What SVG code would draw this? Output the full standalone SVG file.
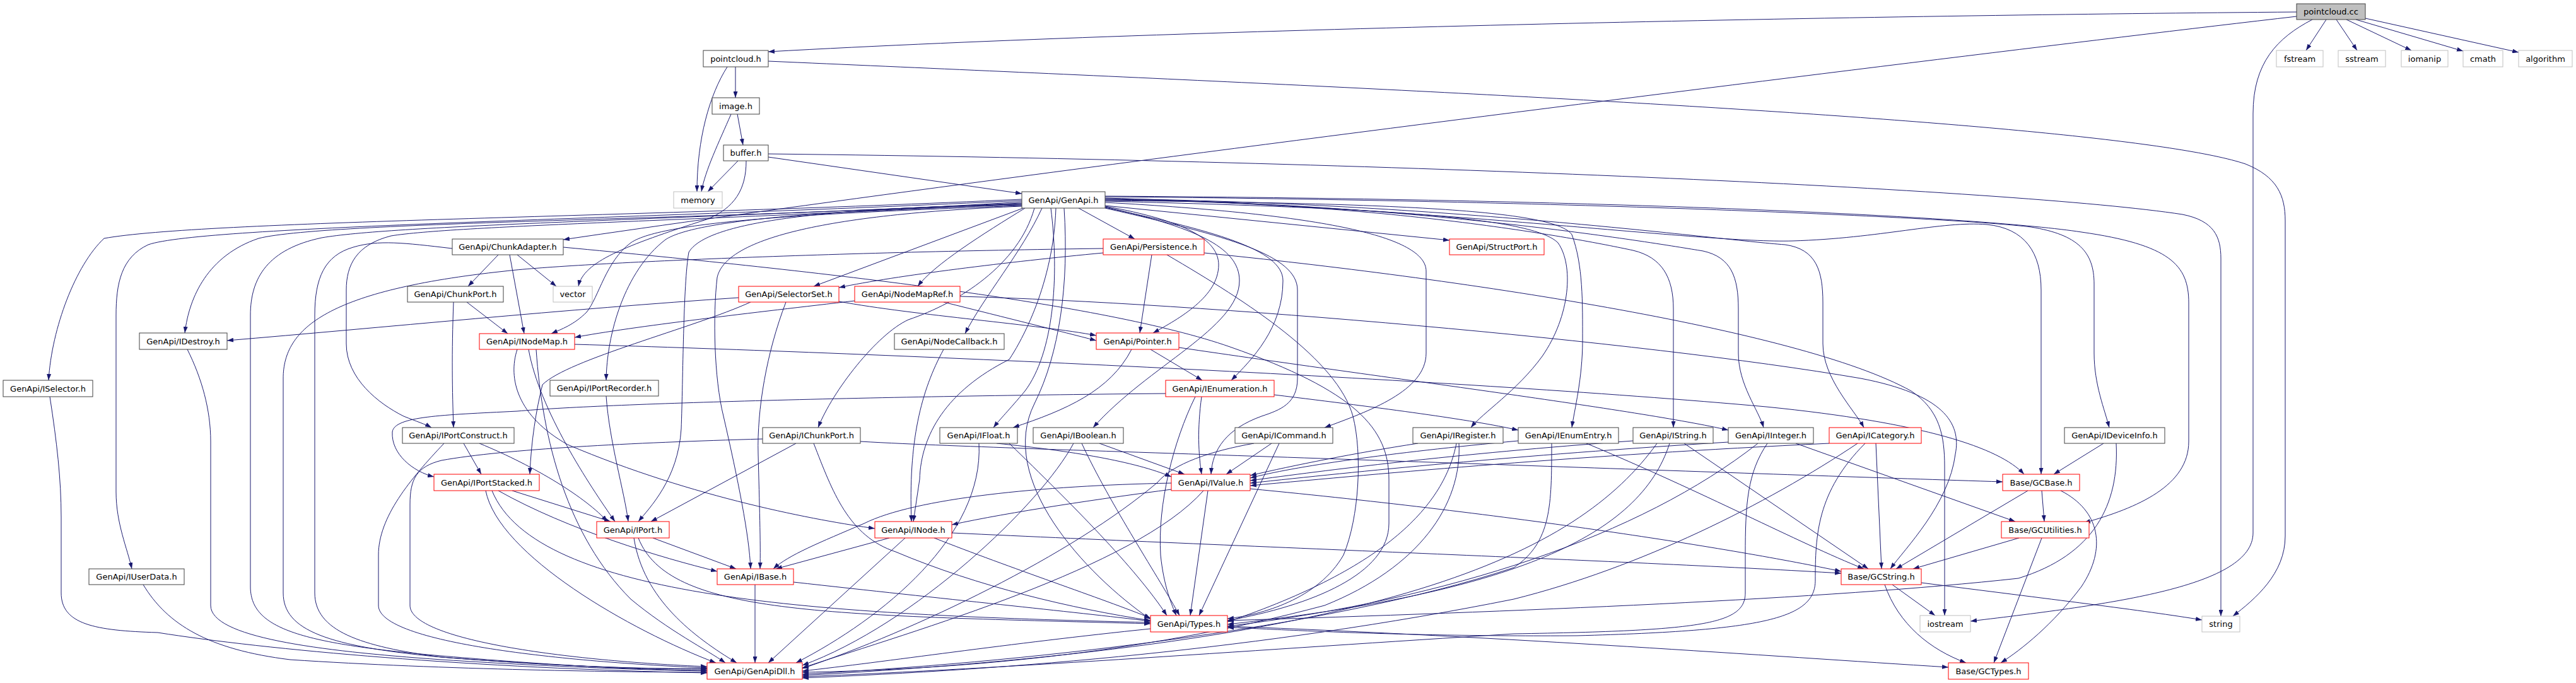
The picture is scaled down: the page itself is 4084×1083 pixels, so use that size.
<svg xmlns="http://www.w3.org/2000/svg" width="4084" height="1083" viewBox="0 0 4084 1083">
<defs>
<marker id="a" viewBox="0 0 10 7" markerWidth="10" markerHeight="7" refX="10" refY="3.5" orient="auto" markerUnits="userSpaceOnUse"><path d="M0,0L10,3.5L0,7z" fill="#191970"/></marker>
</defs>
<style>
rect{fill:#fff;stroke-width:1}
.n rect{stroke:#404040}
.r rect{stroke:#ff0000}
.g rect{stroke:#bfbfbf}
.root rect{fill:#bfbfbf;stroke:#404040}
text{font-family:"DejaVu Sans","Liberation Sans",sans-serif;font-size:13px;fill:#000;text-anchor:middle}
#edges path{fill:none;stroke:#191970;stroke-width:1;marker-end:url(#a)}
</style>
<rect x="0" y="0" width="4084" height="1083" style="fill:#fff;stroke:none"/>
<g id="edges">
<path d="M3641,19 C3000,24 1900,44 1218,82"/>
<path d="M3641,26 C3000,100 1500,290 893,380"/>
<path d="M3688,31 L3656,80"/>
<path d="M3704,31 L3737,80"/>
<path d="M3720,31 L3823,80"/>
<path d="M3735,31 L3905,81"/>
<path d="M3750,29 L3993,83"/>
<path d="M3666,31 C3610,60 3572,100 3572,180 L3572,845 C3572,930 3350,958 3124,985"/>
<path d="M1166,106 L1166,155"/>
<path d="M1153,106 C1125,150 1105,220 1105,304"/>
<path d="M1218,97 C2200,140 3350,190 3560,260 C3610,280 3623,310 3623,350 L3623,850 C3623,910 3575,950 3540,977"/>
<path d="M1159,181 C1140,225 1118,270 1112,304"/>
<path d="M1169,181 L1178,230"/>
<path d="M1170,255 L1122,304"/>
<path d="M1218,249 L1620,307"/>
<path d="M1218,244 C2200,255 3200,300 3460,340 C3510,350 3521,375 3521,410 L3521,977"/>
<path d="M1183,255 C1183,300 1165,330 1120,348 C990,390 925,415 917,454"/>
<path d="M790,404 L742,454"/>
<path d="M820,404 L882,454"/>
<path d="M808,404 L831,529"/>
<path d="M893,392 C1300,430 1750,480 1950,550 C2150,620 2202,680 2202,760 L2202,830 C2202,910 2080,960 1946,984"/>
<path d="M717,394 C640,385 600,380 560,392 C515,405 499,440 499,500 L499,940 C499,1000 570,1025 700,1042 C900,1058 1040,1061 1121,1060"/>
<path d="M1749,401 C1600,415 1420,437 1330,456"/>
<path d="M1749,394 C1300,400 900,418 800,430 C520,460 449,520 449,600 L449,940 C449,1000 520,1025 700,1042 C900,1058 1040,1061 1121,1061"/>
<path d="M1826,404 L1807,528"/>
<path d="M1850,404 C1980,480 2120,570 2145,660 C2160,720 2155,820 2130,880 C2090,950 2000,975 1946,981"/>
<path d="M1909,401 C2300,440 2850,520 3030,620 C3075,650 3083,690 3083,740 L3083,976"/>
<path d="M1710,330 L1799,379"/>
<path d="M1752,326 L2298,381"/>
<path d="M1752,327 C1880,350 1932,380 1932,420 C1932,470 1870,505 1828,528"/>
<path d="M1752,328 C1890,360 1965,390 1965,445 C1965,520 1820,580 1733,678"/>
<path d="M1752,329 C1920,365 2034,395 2034,445 C2034,520 1985,570 1952,603"/>
<path d="M1752,330 C1950,375 2057,405 2057,460 L2057,600 C2057,640 2030,650 2000,660 C1945,680 1922,712 1920,752"/>
<path d="M1752,321 C2100,340 2261,375 2261,430 L2261,560 C2261,620 2170,652 2100,678"/>
<path d="M1752,319 C2200,330 2430,345 2470,385 C2495,420 2490,500 2445,565 C2405,620 2350,655 2332,678"/>
<path d="M1752,318 C2200,322 2465,332 2492,372 C2510,420 2509,480 2509,540 C2509,600 2496,650 2492,678"/>
<path d="M1752,317 C2200,320 2500,378 2589,397 C2635,408 2653,440 2653,490 L2653,678"/>
<path d="M1752,316 C2250,322 2620,385 2700,398 C2745,408 2756,440 2756,490 L2756,560 C2756,610 2788,650 2796,678"/>
<path d="M1752,315 C2300,322 2720,380 2830,388 C2880,395 2890,430 2890,480 L2890,545 C2890,600 2940,650 2955,678"/>
<path d="M1752,314 C2300,330 2700,386 2842,382 C2980,378 3080,350 3150,356 C3210,362 3236,400 3236,460 L3236,752"/>
<path d="M1752,312 C2500,318 3100,345 3220,360 C3295,372 3320,400 3320,450 L3320,560 C3320,610 3337,650 3344,678"/>
<path d="M1752,311 C2600,316 3150,345 3300,368 C3440,388 3470,420 3470,480 L3470,700 C3470,770 3390,805 3304,829"/>
<path d="M1625,330 C1560,370 1480,420 1455,454"/>
<path d="M1622,330 L1290,454"/>
<path d="M1652,330 C1620,400 1560,470 1530,529"/>
<path d="M1666,330 C1680,440 1670,560 1625,620 C1600,650 1585,665 1575,678"/>
<path d="M1640,330 C1615,420 1520,480 1440,507 C1390,530 1320,620 1297,678"/>
<path d="M1674,330 C1670,450 1620,540 1600,570 C1500,620 1460,690 1458,760 L1448,827"/>
<path d="M1687,330 C1695,450 1680,560 1640,640 C1580,760 1720,910 1824,982"/>
<path d="M1620,326 C1300,338 1050,350 1000,385 C960,415 950,470 930,495 C910,515 890,522 874,529"/>
<path d="M1620,325 C1300,333 1100,350 1055,380 C990,430 962,530 961,603"/>
<path d="M1620,324 C1300,330 1120,352 1092,400 C1083,450 1083,600 1080,680 C1075,760 1030,805 1012,827"/>
<path d="M1620,327 C1300,340 1150,380 1137,440 C1130,500 1132,600 1147,660 C1170,760 1188,850 1190,902"/>
<path d="M1620,320 C1200,348 520,350 410,378 C330,405 300,470 293,528"/>
<path d="M1620,316 C1000,345 320,350 165,378 C120,420 82,520 77,603"/>
<path d="M1620,318 C1000,348 320,358 235,388 C192,408 184,450 184,500 L184,780 C184,830 202,870 209,902"/>
<path d="M1620,322 C1000,350 620,358 510,377 C425,395 397,440 397,500 L397,930 C397,995 470,1020 700,1040 C900,1057 1040,1063 1121,1063"/>
<path d="M1620,323 C1100,350 720,358 620,374 C565,388 549,420 549,460 L549,545 C549,600 600,640 640,660 C660,668 675,673 684,678"/>
<path d="M719,479 C716,560 717,620 719,678"/>
<path d="M740,479 L805,529"/>
<path d="M1190,479 C1100,520 900,570 860,610 C850,650 842,700 840,752"/>
<path d="M1246,479 C1215,560 1200,650 1202,720 C1204,800 1206,860 1205,902"/>
<path d="M1330,478 C1450,500 1650,515 1738,532"/>
<path d="M1171,472 C900,490 600,520 360,540"/>
<path d="M1355,477 C1200,495 1000,518 911,535"/>
<path d="M1496,479 C1600,505 1680,525 1738,540"/>
<path d="M1522,470 C1900,480 2600,540 2950,600 C3080,625 3110,670 3100,720 C3090,800 3020,870 2997,902"/>
<path d="M297,554 C320,600 334,650 334,700 L334,960 C334,1010 500,1032 700,1046 C900,1059 1050,1063 1121,1064"/>
<path d="M79,629 C90,700 97,760 97,820 L97,940 C97,990 150,1000 250,1003 C420,1030 750,1060 1121,1067"/>
<path d="M227,927 C265,990 330,1030 460,1046 C700,1062 1000,1066 1121,1066"/>
<path d="M838,554 C855,650 935,770 975,827"/>
<path d="M820,554 C805,600 820,660 900,705 C1100,790 1300,826 1387,838"/>
<path d="M911,546 C1400,560 2300,600 2800,645 C3050,670 3170,710 3209,752"/>
<path d="M850,554 C860,700 900,850 1000,950 C1060,1000 1120,1030 1150,1051"/>
<path d="M1496,554 C1460,620 1440,700 1445,827"/>
<path d="M1794,554 C1760,620 1690,650 1606,678"/>
<path d="M1824,554 L1906,603"/>
<path d="M1869,551 C2200,600 2600,650 2740,682"/>
<path d="M1905,629 C1898,680 1900,720 1905,752"/>
<path d="M1895,629 C1860,700 1835,800 1840,880 C1845,930 1858,960 1865,976"/>
<path d="M2020,626 C2200,648 2330,665 2407,682"/>
<path d="M1848,624 C1400,628 950,640 820,652 C700,658 625,660 622,685 C620,720 655,748 688,756"/>
<path d="M1857,776 C1750,790 1600,812 1509,832"/>
<path d="M1857,766 C1650,770 1450,790 1370,830 C1300,860 1250,880 1226,902"/>
<path d="M1915,778 L1887,976"/>
<path d="M1908,778 C1800,900 1450,1000 1272,1059"/>
<path d="M1982,775 C2400,815 2750,870 2919,906"/>
<path d="M1410,853 L1230,902"/>
<path d="M1435,853 L1218,1051"/>
<path d="M1481,853 C1600,900 1750,950 1824,980"/>
<path d="M1509,845 C2000,868 2600,890 2919,909"/>
<path d="M1035,853 L1167,902"/>
<path d="M1005,853 C1020,950 1100,1010 1168,1051"/>
<path d="M1012,853 C1060,975 1300,975 1824,989"/>
<path d="M961,628 C966,700 990,780 996,827"/>
<path d="M812,778 L968,827"/>
<path d="M790,778 C900,840 1050,885 1137,906"/>
<path d="M770,778 C790,880 1000,1000 1135,1051"/>
<path d="M780,778 C850,950 1300,975 1824,987"/>
<path d="M735,703 L763,752"/>
<path d="M760,703 C850,740 930,790 963,827"/>
<path d="M704,703 C650,760 600,820 600,880 L600,960 C600,1020 900,1050 1121,1059"/>
<path d="M1262,703 L1032,827"/>
<path d="M1290,703 C1320,780 1345,850 1420,875 C1550,930 1700,965 1824,984"/>
<path d="M1209,696 C1000,702 800,712 700,730 C660,740 650,760 650,800 L650,960 C650,1015 900,1048 1121,1057"/>
<path d="M1364,700 C1450,705 1550,708 1650,712 C2200,730 2800,752 3175,764"/>
<path d="M1580,703 C1700,715 1800,732 1857,756"/>
<path d="M1600,703 C1700,800 1800,900 1850,976"/>
<path d="M1552,703 C1560,850 1400,980 1262,1051"/>
<path d="M1743,703 L1878,752"/>
<path d="M1715,703 C1760,800 1840,920 1870,976"/>
<path d="M1702,703 C1650,800 1450,990 1272,1055"/>
<path d="M2016,703 L1944,752"/>
<path d="M2028,703 L1901,976"/>
<path d="M1988,703 C1920,715 1860,735 1835,765 C1700,880 1450,1000 1272,1060"/>
<path d="M2248,703 C2150,718 2050,738 1982,754"/>
<path d="M2309,703 C2290,800 2200,900 1946,986"/>
<path d="M2313,703 C2318,800 2250,900 2100,960 C1800,1040 1500,1062 1272,1066"/>
<path d="M2407,699 C2200,718 2050,740 1982,758"/>
<path d="M2515,703 C2700,780 2850,860 2955,902"/>
<path d="M2460,703 C2460,800 2460,860 2400,900 C2100,1000 1600,1052 1272,1069"/>
<path d="M2589,699 C2300,720 2100,746 1982,762"/>
<path d="M2670,703 L2962,902"/>
<path d="M2647,703 C2600,850 2400,940 1946,990"/>
<path d="M2627,703 C2500,880 2200,1020 1272,1071"/>
<path d="M2740,701 C2400,722 2150,748 1982,766"/>
<path d="M2847,703 L3195,827"/>
<path d="M2787,703 C2600,850 2300,950 1946,993"/>
<path d="M2802,703 C2770,750 2767,800 2767,880 L2767,940 C2767,990 2700,1000 2400,1005 C2000,1030 1600,1060 1272,1073"/>
<path d="M2900,703 C2500,722 2200,750 1982,770"/>
<path d="M2974,703 L2983,902"/>
<path d="M2957,703 C2880,780 2878,850 2878,920 C2878,980 2800,1000 2500,1008 C2200,1010 2000,996 1946,995"/>
<path d="M2945,703 C2800,800 2600,900 2400,950 C2000,1030 1600,1062 1272,1075"/>
<path d="M3335,703 L3256,752"/>
<path d="M3355,703 C3360,800 3320,880 3200,917 C2900,950 2400,970 1946,984"/>
<path d="M3215,778 L3006,902"/>
<path d="M3237,778 L3241,827"/>
<path d="M3267,778 C3330,810 3340,870 3300,930 C3255,990 3205,1030 3172,1051"/>
<path d="M3201,853 L3033,902"/>
<path d="M3237,853 L3161,1051"/>
<path d="M3000,927 L3068,976"/>
<path d="M3046,924 C3250,950 3400,968 3491,983"/>
<path d="M2988,927 C3010,990 3060,1030 3117,1051"/>
<path d="M1197,927 L1197,1051"/>
<path d="M1258,923 C1500,950 1700,970 1824,985"/>
<path d="M1824,997 C1600,1020 1400,1050 1272,1064"/>
<path d="M1946,993 C2400,1010 2800,1040 3089,1058"/>
</g>
<g id="pointcloud_cc" class="root"><rect x="3641" y="6" width="109" height="25"/><text x="3695.5" y="23">pointcloud.cc</text></g>
<g id="pointcloud_h" class="n"><rect x="1115" y="80" width="103" height="26"/><text x="1166.5" y="97.5">pointcloud.h</text></g>
<g id="fstream" class="g"><rect x="3609" y="80" width="74" height="26"/><text x="3646" y="97.5">fstream</text></g>
<g id="sstream" class="g"><rect x="3707" y="80" width="75" height="26"/><text x="3744.5" y="97.5">sstream</text></g>
<g id="iomanip" class="g"><rect x="3807" y="80" width="74" height="26"/><text x="3844" y="97.5">iomanip</text></g>
<g id="cmath" class="g"><rect x="3905" y="80" width="63" height="26"/><text x="3936.5" y="97.5">cmath</text></g>
<g id="algorithm" class="g"><rect x="3993" y="80" width="85" height="26"/><text x="4035.5" y="97.5">algorithm</text></g>
<g id="image_h" class="n"><rect x="1129" y="155" width="75" height="26"/><text x="1166.5" y="172.5">image.h</text></g>
<g id="buffer_h" class="n"><rect x="1147" y="230" width="71" height="25"/><text x="1182.5" y="247">buffer.h</text></g>
<g id="memory" class="g"><rect x="1068" y="304" width="77" height="26"/><text x="1106.5" y="321.5">memory</text></g>
<g id="GenApi_h" class="n"><rect x="1620" y="304" width="132" height="26"/><text x="1686" y="321.5">GenApi/GenApi.h</text></g>
<g id="ChunkAdapter_h" class="n"><rect x="717" y="379" width="176" height="25"/><text x="805" y="396">GenApi/ChunkAdapter.h</text></g>
<g id="Persistence_h" class="r"><rect x="1749" y="379" width="160" height="25"/><text x="1829" y="396">GenApi/Persistence.h</text></g>
<g id="StructPort_h" class="r"><rect x="2298" y="379" width="150" height="25"/><text x="2373" y="396">GenApi/StructPort.h</text></g>
<g id="ChunkPort_h" class="n"><rect x="646" y="454" width="152" height="25"/><text x="722" y="471">GenApi/ChunkPort.h</text></g>
<g id="vector" class="g"><rect x="877" y="454" width="62" height="25"/><text x="908" y="471">vector</text></g>
<g id="SelectorSet_h" class="r"><rect x="1171" y="454" width="159" height="25"/><text x="1250.5" y="471">GenApi/SelectorSet.h</text></g>
<g id="NodeMapRef_h" class="r"><rect x="1355" y="454" width="167" height="25"/><text x="1438.5" y="471">GenApi/NodeMapRef.h</text></g>
<g id="IDestroy_h" class="n"><rect x="221" y="528" width="139" height="26"/><text x="290.5" y="545.5">GenApi/IDestroy.h</text></g>
<g id="INodeMap_h" class="r"><rect x="760" y="529" width="151" height="25"/><text x="835.5" y="546">GenApi/INodeMap.h</text></g>
<g id="NodeCallback_h" class="n"><rect x="1418" y="529" width="174" height="25"/><text x="1505" y="546">GenApi/NodeCallback.h</text></g>
<g id="Pointer_h" class="r"><rect x="1738" y="528" width="131" height="26"/><text x="1803.5" y="545.5">GenApi/Pointer.h</text></g>
<g id="ISelector_h" class="n"><rect x="5" y="603" width="142" height="26"/><text x="76" y="620.5">GenApi/ISelector.h</text></g>
<g id="IPortRecorder_h" class="n"><rect x="872" y="603" width="172" height="25"/><text x="958" y="620">GenApi/IPortRecorder.h</text></g>
<g id="IEnumeration_h" class="r"><rect x="1848" y="603" width="172" height="26"/><text x="1934" y="620.5">GenApi/IEnumeration.h</text></g>
<g id="IPortConstruct_h" class="n"><rect x="638" y="678" width="177" height="25"/><text x="726.5" y="695">GenApi/IPortConstruct.h</text></g>
<g id="IChunkPort_h" class="n"><rect x="1209" y="678" width="155" height="25"/><text x="1286.5" y="695">GenApi/IChunkPort.h</text></g>
<g id="IFloat_h" class="n"><rect x="1490" y="678" width="123" height="25"/><text x="1551.5" y="695">GenApi/IFloat.h</text></g>
<g id="IBoolean_h" class="n"><rect x="1638" y="678" width="143" height="25"/><text x="1709.5" y="695">GenApi/IBoolean.h</text></g>
<g id="ICommand_h" class="n"><rect x="1958" y="678" width="155" height="25"/><text x="2035.5" y="695">GenApi/ICommand.h</text></g>
<g id="IRegister_h" class="n"><rect x="2240" y="678" width="143" height="25"/><text x="2311.5" y="695">GenApi/IRegister.h</text></g>
<g id="IEnumEntry_h" class="n"><rect x="2407" y="678" width="159" height="25"/><text x="2486.5" y="695">GenApi/IEnumEntry.h</text></g>
<g id="IString_h" class="n"><rect x="2589" y="678" width="127" height="25"/><text x="2652.5" y="695">GenApi/IString.h</text></g>
<g id="IInteger_h" class="n"><rect x="2740" y="678" width="135" height="25"/><text x="2807.5" y="695">GenApi/IInteger.h</text></g>
<g id="ICategory_h" class="r"><rect x="2900" y="678" width="146" height="25"/><text x="2973" y="695">GenApi/ICategory.h</text></g>
<g id="IDeviceInfo_h" class="n"><rect x="3273" y="678" width="159" height="25"/><text x="3352.5" y="695">GenApi/IDeviceInfo.h</text></g>
<g id="IPortStacked_h" class="r"><rect x="688" y="752" width="167" height="26"/><text x="771.5" y="769.5">GenApi/IPortStacked.h</text></g>
<g id="IValue_h" class="r"><rect x="1857" y="752" width="125" height="26"/><text x="1919.5" y="769.5">GenApi/IValue.h</text></g>
<g id="GCBase_h" class="r"><rect x="3175" y="752" width="122" height="26"/><text x="3236" y="769.5">Base/GCBase.h</text></g>
<g id="IPort_h" class="r"><rect x="946" y="827" width="115" height="26"/><text x="1003.5" y="844.5">GenApi/IPort.h</text></g>
<g id="INode_h" class="r"><rect x="1387" y="827" width="122" height="26"/><text x="1448" y="844.5">GenApi/INode.h</text></g>
<g id="GCUtilities_h" class="r"><rect x="3173" y="827" width="139" height="26"/><text x="3242.5" y="844.5">Base/GCUtilities.h</text></g>
<g id="IUserData_h" class="n"><rect x="141" y="902" width="151" height="25"/><text x="216.5" y="919">GenApi/IUserData.h</text></g>
<g id="IBase_h" class="r"><rect x="1137" y="902" width="121" height="25"/><text x="1197.5" y="919">GenApi/IBase.h</text></g>
<g id="GCString_h" class="r"><rect x="2919" y="902" width="127" height="25"/><text x="2982.5" y="919">Base/GCString.h</text></g>
<g id="Types_h" class="r"><rect x="1824" y="976" width="122" height="26"/><text x="1885" y="993.5">GenApi/Types.h</text></g>
<g id="iostream" class="g"><rect x="3044" y="976" width="80" height="26"/><text x="3084" y="993.5">iostream</text></g>
<g id="string" class="g"><rect x="3491" y="977" width="60" height="25"/><text x="3521" y="994">string</text></g>
<g id="GenApiDll_h" class="r"><rect x="1121" y="1051" width="151" height="26"/><text x="1196.5" y="1068.5">GenApi/GenApiDll.h</text></g>
<g id="GCTypes_h" class="r"><rect x="3089" y="1051" width="127" height="26"/><text x="3152.5" y="1068.5">Base/GCTypes.h</text></g>
</svg>
